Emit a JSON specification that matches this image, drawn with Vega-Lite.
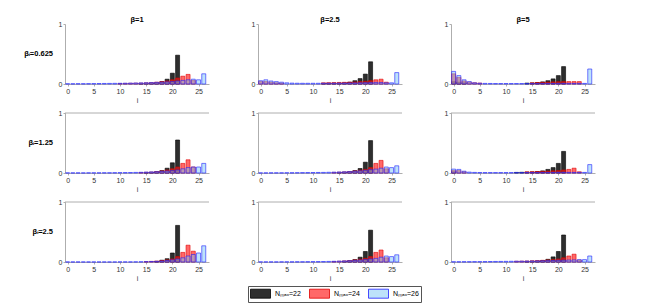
{
"$schema":"https://vega.github.io/schema/vega-lite/v6.json",
"padding":{"left":24,"top":15,"right":5,"bottom":5},
"config":{
 "view":{"stroke":null},
 "font":"Liberation Sans",
 "axis":{"labelFontSize":7,"labelColor":"#333","domainColor":"#999","tickColor":"#999","tickSize":2,"labelPadding":1,"titleFontSize":7,"titleFontWeight":"normal","titleColor":"#333","titlePadding":2,"grid":false,"domainWidth":0.8,"tickWidth":0.8,"labelOverlap":false},
 "header":{"labelFontSize":7.5,"labelFontWeight":"bold","labelColor":"#000"},
 "legend":{"orient":"none","direction":"horizontal","legendX":183,"legendY":262,"strokeColor":"#555","fillColor":"#fff","padding":2,"symbolType":"M-2,-0.9H2V0.9H-2Z","symbolSize":100,"symbolOffset":5,"labelOffset":9,"labelFontSize":7,"columnPadding":6,"symbolStrokeWidth":0.8,"labelColor":"#000"}
},
"data":{"values":[
{"r":0.625,"c":1,"n":"22","i":14,"p":0.008},{"r":0.625,"c":1,"n":"22","i":15,"p":0.01},{"r":0.625,"c":1,"n":"22","i":16,"p":0.013},{"r":0.625,"c":1,"n":"22","i":17,"p":0.02},{"r":0.625,"c":1,"n":"22","i":18,"p":0.04},{"r":0.625,"c":1,"n":"22","i":19,"p":0.08},{"r":0.625,"c":1,"n":"22","i":20,"p":0.18},{"r":0.625,"c":1,"n":"22","i":21,"p":0.48},
{"r":0.625,"c":2.5,"n":"22","i":12,"p":0.01},{"r":0.625,"c":2.5,"n":"22","i":13,"p":0.012},{"r":0.625,"c":2.5,"n":"22","i":14,"p":0.014},{"r":0.625,"c":2.5,"n":"22","i":15,"p":0.016},{"r":0.625,"c":2.5,"n":"22","i":16,"p":0.02},{"r":0.625,"c":2.5,"n":"22","i":17,"p":0.03},{"r":0.625,"c":2.5,"n":"22","i":18,"p":0.055},{"r":0.625,"c":2.5,"n":"22","i":19,"p":0.09},{"r":0.625,"c":2.5,"n":"22","i":20,"p":0.165},{"r":0.625,"c":2.5,"n":"22","i":21,"p":0.37},
{"r":0.625,"c":5,"n":"22","i":0,"p":0.04},{"r":0.625,"c":5,"n":"22","i":1,"p":0.03},{"r":0.625,"c":5,"n":"22","i":2,"p":0.02},{"r":0.625,"c":5,"n":"22","i":14,"p":0.015},{"r":0.625,"c":5,"n":"22","i":15,"p":0.018},{"r":0.625,"c":5,"n":"22","i":16,"p":0.025},{"r":0.625,"c":5,"n":"22","i":17,"p":0.035},{"r":0.625,"c":5,"n":"22","i":18,"p":0.055},{"r":0.625,"c":5,"n":"22","i":19,"p":0.085},{"r":0.625,"c":5,"n":"22","i":20,"p":0.14},{"r":0.625,"c":5,"n":"22","i":21,"p":0.29},
{"r":1.25,"c":1,"n":"22","i":15,"p":0.005},{"r":1.25,"c":1,"n":"22","i":16,"p":0.01},{"r":1.25,"c":1,"n":"22","i":17,"p":0.02},{"r":1.25,"c":1,"n":"22","i":18,"p":0.04},{"r":1.25,"c":1,"n":"22","i":19,"p":0.08},{"r":1.25,"c":1,"n":"22","i":20,"p":0.17},{"r":1.25,"c":1,"n":"22","i":21,"p":0.55},
{"r":1.25,"c":2.5,"n":"22","i":15,"p":0.008},{"r":1.25,"c":2.5,"n":"22","i":16,"p":0.012},{"r":1.25,"c":2.5,"n":"22","i":17,"p":0.02},{"r":1.25,"c":2.5,"n":"22","i":18,"p":0.04},{"r":1.25,"c":2.5,"n":"22","i":19,"p":0.075},{"r":1.25,"c":2.5,"n":"22","i":20,"p":0.18},{"r":1.25,"c":2.5,"n":"22","i":21,"p":0.54},
{"r":1.25,"c":5,"n":"22","i":0,"p":0.02},{"r":1.25,"c":5,"n":"22","i":12,"p":0.01},{"r":1.25,"c":5,"n":"22","i":13,"p":0.012},{"r":1.25,"c":5,"n":"22","i":14,"p":0.015},{"r":1.25,"c":5,"n":"22","i":15,"p":0.018},{"r":1.25,"c":5,"n":"22","i":16,"p":0.025},{"r":1.25,"c":5,"n":"22","i":17,"p":0.035},{"r":1.25,"c":5,"n":"22","i":18,"p":0.06},{"r":1.25,"c":5,"n":"22","i":19,"p":0.09},{"r":1.25,"c":5,"n":"22","i":20,"p":0.16},{"r":1.25,"c":5,"n":"22","i":21,"p":0.36},
{"r":2.5,"c":1,"n":"22","i":17,"p":0.01},{"r":2.5,"c":1,"n":"22","i":18,"p":0.03},{"r":2.5,"c":1,"n":"22","i":19,"p":0.055},{"r":2.5,"c":1,"n":"22","i":20,"p":0.15},{"r":2.5,"c":1,"n":"22","i":21,"p":0.61},
{"r":2.5,"c":2.5,"n":"22","i":16,"p":0.01},{"r":2.5,"c":2.5,"n":"22","i":17,"p":0.02},{"r":2.5,"c":2.5,"n":"22","i":18,"p":0.04},{"r":2.5,"c":2.5,"n":"22","i":19,"p":0.08},{"r":2.5,"c":2.5,"n":"22","i":20,"p":0.175},{"r":2.5,"c":2.5,"n":"22","i":21,"p":0.53},
{"r":2.5,"c":5,"n":"22","i":14,"p":0.01},{"r":2.5,"c":5,"n":"22","i":15,"p":0.012},{"r":2.5,"c":5,"n":"22","i":16,"p":0.016},{"r":2.5,"c":5,"n":"22","i":17,"p":0.025},{"r":2.5,"c":5,"n":"22","i":18,"p":0.045},{"r":2.5,"c":5,"n":"22","i":19,"p":0.085},{"r":2.5,"c":5,"n":"22","i":20,"p":0.175},{"r":2.5,"c":5,"n":"22","i":21,"p":0.45},
{"r":0.625,"c":1,"n":"24","i":10,"p":0.008},{"r":0.625,"c":1,"n":"24","i":11,"p":0.01},{"r":0.625,"c":1,"n":"24","i":12,"p":0.012},{"r":0.625,"c":1,"n":"24","i":13,"p":0.014},{"r":0.625,"c":1,"n":"24","i":14,"p":0.016},{"r":0.625,"c":1,"n":"24","i":15,"p":0.02},{"r":0.625,"c":1,"n":"24","i":16,"p":0.024},{"r":0.625,"c":1,"n":"24","i":17,"p":0.03},{"r":0.625,"c":1,"n":"24","i":18,"p":0.04},{"r":0.625,"c":1,"n":"24","i":19,"p":0.05},{"r":0.625,"c":1,"n":"24","i":20,"p":0.07},{"r":0.625,"c":1,"n":"24","i":21,"p":0.1},{"r":0.625,"c":1,"n":"24","i":22,"p":0.13},{"r":0.625,"c":1,"n":"24","i":23,"p":0.16},{"r":0.625,"c":1,"n":"24","i":24,"p":0.06},
{"r":0.625,"c":2.5,"n":"24","i":0,"p":0.04},{"r":0.625,"c":2.5,"n":"24","i":1,"p":0.04},{"r":0.625,"c":2.5,"n":"24","i":2,"p":0.03},{"r":0.625,"c":2.5,"n":"24","i":3,"p":0.02},{"r":0.625,"c":2.5,"n":"24","i":4,"p":0.015},{"r":0.625,"c":2.5,"n":"24","i":12,"p":0.02},{"r":0.625,"c":2.5,"n":"24","i":13,"p":0.022},{"r":0.625,"c":2.5,"n":"24","i":14,"p":0.024},{"r":0.625,"c":2.5,"n":"24","i":15,"p":0.026},{"r":0.625,"c":2.5,"n":"24","i":16,"p":0.028},{"r":0.625,"c":2.5,"n":"24","i":17,"p":0.03},{"r":0.625,"c":2.5,"n":"24","i":18,"p":0.034},{"r":0.625,"c":2.5,"n":"24","i":19,"p":0.04},{"r":0.625,"c":2.5,"n":"24","i":20,"p":0.045},{"r":0.625,"c":2.5,"n":"24","i":21,"p":0.055},{"r":0.625,"c":2.5,"n":"24","i":22,"p":0.07},{"r":0.625,"c":2.5,"n":"24","i":23,"p":0.08},{"r":0.625,"c":2.5,"n":"24","i":24,"p":0.03},
{"r":0.625,"c":5,"n":"24","i":0,"p":0.17},{"r":0.625,"c":5,"n":"24","i":1,"p":0.11},{"r":0.625,"c":5,"n":"24","i":2,"p":0.05},{"r":0.625,"c":5,"n":"24","i":3,"p":0.03},{"r":0.625,"c":5,"n":"24","i":4,"p":0.02},{"r":0.625,"c":5,"n":"24","i":5,"p":0.015},{"r":0.625,"c":5,"n":"24","i":15,"p":0.02},{"r":0.625,"c":5,"n":"24","i":16,"p":0.024},{"r":0.625,"c":5,"n":"24","i":17,"p":0.028},{"r":0.625,"c":5,"n":"24","i":18,"p":0.032},{"r":0.625,"c":5,"n":"24","i":19,"p":0.035},{"r":0.625,"c":5,"n":"24","i":20,"p":0.038},{"r":0.625,"c":5,"n":"24","i":21,"p":0.04},{"r":0.625,"c":5,"n":"24","i":22,"p":0.04},{"r":0.625,"c":5,"n":"24","i":23,"p":0.04},{"r":0.625,"c":5,"n":"24","i":24,"p":0.04},
{"r":1.25,"c":1,"n":"24","i":14,"p":0.008},{"r":1.25,"c":1,"n":"24","i":15,"p":0.012},{"r":1.25,"c":1,"n":"24","i":16,"p":0.016},{"r":1.25,"c":1,"n":"24","i":17,"p":0.025},{"r":1.25,"c":1,"n":"24","i":18,"p":0.035},{"r":1.25,"c":1,"n":"24","i":19,"p":0.05},{"r":1.25,"c":1,"n":"24","i":20,"p":0.07},{"r":1.25,"c":1,"n":"24","i":21,"p":0.1},{"r":1.25,"c":1,"n":"24","i":22,"p":0.16},{"r":1.25,"c":1,"n":"24","i":23,"p":0.22},{"r":1.25,"c":1,"n":"24","i":24,"p":0.1},
{"r":1.25,"c":2.5,"n":"24","i":14,"p":0.01},{"r":1.25,"c":2.5,"n":"24","i":15,"p":0.014},{"r":1.25,"c":2.5,"n":"24","i":16,"p":0.018},{"r":1.25,"c":2.5,"n":"24","i":17,"p":0.025},{"r":1.25,"c":2.5,"n":"24","i":18,"p":0.035},{"r":1.25,"c":2.5,"n":"24","i":19,"p":0.045},{"r":1.25,"c":2.5,"n":"24","i":20,"p":0.06},{"r":1.25,"c":2.5,"n":"24","i":21,"p":0.09},{"r":1.25,"c":2.5,"n":"24","i":22,"p":0.16},{"r":1.25,"c":2.5,"n":"24","i":23,"p":0.21},{"r":1.25,"c":2.5,"n":"24","i":24,"p":0.07},
{"r":1.25,"c":5,"n":"24","i":0,"p":0.04},{"r":1.25,"c":5,"n":"24","i":1,"p":0.04},{"r":1.25,"c":5,"n":"24","i":2,"p":0.02},{"r":1.25,"c":5,"n":"24","i":14,"p":0.02},{"r":1.25,"c":5,"n":"24","i":15,"p":0.022},{"r":1.25,"c":5,"n":"24","i":16,"p":0.025},{"r":1.25,"c":5,"n":"24","i":17,"p":0.028},{"r":1.25,"c":5,"n":"24","i":18,"p":0.032},{"r":1.25,"c":5,"n":"24","i":19,"p":0.036},{"r":1.25,"c":5,"n":"24","i":20,"p":0.04},{"r":1.25,"c":5,"n":"24","i":21,"p":0.05},{"r":1.25,"c":5,"n":"24","i":22,"p":0.06},{"r":1.25,"c":5,"n":"24","i":23,"p":0.08},{"r":1.25,"c":5,"n":"24","i":24,"p":0.02},
{"r":2.5,"c":1,"n":"24","i":15,"p":0.005},{"r":2.5,"c":1,"n":"24","i":16,"p":0.01},{"r":2.5,"c":1,"n":"24","i":17,"p":0.015},{"r":2.5,"c":1,"n":"24","i":18,"p":0.025},{"r":2.5,"c":1,"n":"24","i":19,"p":0.035},{"r":2.5,"c":1,"n":"24","i":20,"p":0.05},{"r":2.5,"c":1,"n":"24","i":21,"p":0.09},{"r":2.5,"c":1,"n":"24","i":22,"p":0.16},{"r":2.5,"c":1,"n":"24","i":23,"p":0.28},{"r":2.5,"c":1,"n":"24","i":24,"p":0.18},
{"r":2.5,"c":2.5,"n":"24","i":14,"p":0.008},{"r":2.5,"c":2.5,"n":"24","i":15,"p":0.012},{"r":2.5,"c":2.5,"n":"24","i":16,"p":0.018},{"r":2.5,"c":2.5,"n":"24","i":17,"p":0.025},{"r":2.5,"c":2.5,"n":"24","i":18,"p":0.035},{"r":2.5,"c":2.5,"n":"24","i":19,"p":0.045},{"r":2.5,"c":2.5,"n":"24","i":20,"p":0.06},{"r":2.5,"c":2.5,"n":"24","i":21,"p":0.09},{"r":2.5,"c":2.5,"n":"24","i":22,"p":0.16},{"r":2.5,"c":2.5,"n":"24","i":23,"p":0.2},{"r":2.5,"c":2.5,"n":"24","i":24,"p":0.07},
{"r":2.5,"c":5,"n":"24","i":12,"p":0.012},{"r":2.5,"c":5,"n":"24","i":13,"p":0.014},{"r":2.5,"c":5,"n":"24","i":14,"p":0.016},{"r":2.5,"c":5,"n":"24","i":15,"p":0.02},{"r":2.5,"c":5,"n":"24","i":16,"p":0.024},{"r":2.5,"c":5,"n":"24","i":17,"p":0.028},{"r":2.5,"c":5,"n":"24","i":18,"p":0.034},{"r":2.5,"c":5,"n":"24","i":19,"p":0.04},{"r":2.5,"c":5,"n":"24","i":20,"p":0.05},{"r":2.5,"c":5,"n":"24","i":21,"p":0.07},{"r":2.5,"c":5,"n":"24","i":22,"p":0.1},{"r":2.5,"c":5,"n":"24","i":23,"p":0.13},{"r":2.5,"c":5,"n":"24","i":24,"p":0.03},
{"r":0.625,"c":1,"n":"26","i":0,"p":0.004},{"r":0.625,"c":1,"n":"26","i":1,"p":0.004},{"r":0.625,"c":1,"n":"26","i":2,"p":0.005},{"r":0.625,"c":1,"n":"26","i":3,"p":0.005},{"r":0.625,"c":1,"n":"26","i":4,"p":0.006},{"r":0.625,"c":1,"n":"26","i":5,"p":0.007},{"r":0.625,"c":1,"n":"26","i":6,"p":0.008},{"r":0.625,"c":1,"n":"26","i":7,"p":0.009},{"r":0.625,"c":1,"n":"26","i":8,"p":0.01},{"r":0.625,"c":1,"n":"26","i":9,"p":0.011},{"r":0.625,"c":1,"n":"26","i":10,"p":0.012},{"r":0.625,"c":1,"n":"26","i":11,"p":0.013},{"r":0.625,"c":1,"n":"26","i":12,"p":0.015},{"r":0.625,"c":1,"n":"26","i":13,"p":0.017},{"r":0.625,"c":1,"n":"26","i":14,"p":0.019},{"r":0.625,"c":1,"n":"26","i":15,"p":0.021},{"r":0.625,"c":1,"n":"26","i":16,"p":0.024},{"r":0.625,"c":1,"n":"26","i":17,"p":0.027},{"r":0.625,"c":1,"n":"26","i":18,"p":0.03},{"r":0.625,"c":1,"n":"26","i":19,"p":0.035},{"r":0.625,"c":1,"n":"26","i":20,"p":0.04},{"r":0.625,"c":1,"n":"26","i":21,"p":0.05},{"r":0.625,"c":1,"n":"26","i":22,"p":0.06},{"r":0.625,"c":1,"n":"26","i":23,"p":0.07},{"r":0.625,"c":1,"n":"26","i":24,"p":0.08},{"r":0.625,"c":1,"n":"26","i":25,"p":0.07},{"r":0.625,"c":1,"n":"26","i":26,"p":0.17},
{"r":0.625,"c":2.5,"n":"26","i":0,"p":0.055},{"r":0.625,"c":2.5,"n":"26","i":1,"p":0.07},{"r":0.625,"c":2.5,"n":"26","i":2,"p":0.05},{"r":0.625,"c":2.5,"n":"26","i":3,"p":0.04},{"r":0.625,"c":2.5,"n":"26","i":4,"p":0.03},{"r":0.625,"c":2.5,"n":"26","i":5,"p":0.02},{"r":0.625,"c":2.5,"n":"26","i":6,"p":0.015},{"r":0.625,"c":2.5,"n":"26","i":7,"p":0.013},{"r":0.625,"c":2.5,"n":"26","i":8,"p":0.012},{"r":0.625,"c":2.5,"n":"26","i":9,"p":0.012},{"r":0.625,"c":2.5,"n":"26","i":10,"p":0.012},{"r":0.625,"c":2.5,"n":"26","i":11,"p":0.012},{"r":0.625,"c":2.5,"n":"26","i":12,"p":0.013},{"r":0.625,"c":2.5,"n":"26","i":13,"p":0.013},{"r":0.625,"c":2.5,"n":"26","i":14,"p":0.014},{"r":0.625,"c":2.5,"n":"26","i":15,"p":0.015},{"r":0.625,"c":2.5,"n":"26","i":16,"p":0.016},{"r":0.625,"c":2.5,"n":"26","i":17,"p":0.017},{"r":0.625,"c":2.5,"n":"26","i":18,"p":0.018},{"r":0.625,"c":2.5,"n":"26","i":19,"p":0.02},{"r":0.625,"c":2.5,"n":"26","i":20,"p":0.022},{"r":0.625,"c":2.5,"n":"26","i":21,"p":0.024},{"r":0.625,"c":2.5,"n":"26","i":22,"p":0.026},{"r":0.625,"c":2.5,"n":"26","i":23,"p":0.025},{"r":0.625,"c":2.5,"n":"26","i":24,"p":0.02},{"r":0.625,"c":2.5,"n":"26","i":25,"p":0.02},{"r":0.625,"c":2.5,"n":"26","i":26,"p":0.19},
{"r":0.625,"c":5,"n":"26","i":0,"p":0.21},{"r":0.625,"c":5,"n":"26","i":1,"p":0.14},{"r":0.625,"c":5,"n":"26","i":2,"p":0.07},{"r":0.625,"c":5,"n":"26","i":3,"p":0.04},{"r":0.625,"c":5,"n":"26","i":4,"p":0.02},{"r":0.625,"c":5,"n":"26","i":5,"p":0.013},{"r":0.625,"c":5,"n":"26","i":6,"p":0.01},{"r":0.625,"c":5,"n":"26","i":7,"p":0.009},{"r":0.625,"c":5,"n":"26","i":8,"p":0.008},{"r":0.625,"c":5,"n":"26","i":9,"p":0.008},{"r":0.625,"c":5,"n":"26","i":10,"p":0.008},{"r":0.625,"c":5,"n":"26","i":11,"p":0.008},{"r":0.625,"c":5,"n":"26","i":12,"p":0.008},{"r":0.625,"c":5,"n":"26","i":13,"p":0.008},{"r":0.625,"c":5,"n":"26","i":14,"p":0.008},{"r":0.625,"c":5,"n":"26","i":15,"p":0.008},{"r":0.625,"c":5,"n":"26","i":16,"p":0.008},{"r":0.625,"c":5,"n":"26","i":17,"p":0.009},{"r":0.625,"c":5,"n":"26","i":18,"p":0.009},{"r":0.625,"c":5,"n":"26","i":19,"p":0.009},{"r":0.625,"c":5,"n":"26","i":20,"p":0.01},{"r":0.625,"c":5,"n":"26","i":21,"p":0.01},{"r":0.625,"c":5,"n":"26","i":22,"p":0.01},{"r":0.625,"c":5,"n":"26","i":23,"p":0.01},{"r":0.625,"c":5,"n":"26","i":24,"p":0.01},{"r":0.625,"c":5,"n":"26","i":25,"p":0.01},{"r":0.625,"c":5,"n":"26","i":26,"p":0.25},
{"r":1.25,"c":1,"n":"26","i":0,"p":0.002},{"r":1.25,"c":1,"n":"26","i":1,"p":0.002},{"r":1.25,"c":1,"n":"26","i":2,"p":0.002},{"r":1.25,"c":1,"n":"26","i":3,"p":0.002},{"r":1.25,"c":1,"n":"26","i":4,"p":0.003},{"r":1.25,"c":1,"n":"26","i":5,"p":0.003},{"r":1.25,"c":1,"n":"26","i":6,"p":0.003},{"r":1.25,"c":1,"n":"26","i":7,"p":0.004},{"r":1.25,"c":1,"n":"26","i":8,"p":0.004},{"r":1.25,"c":1,"n":"26","i":9,"p":0.005},{"r":1.25,"c":1,"n":"26","i":10,"p":0.006},{"r":1.25,"c":1,"n":"26","i":11,"p":0.007},{"r":1.25,"c":1,"n":"26","i":12,"p":0.008},{"r":1.25,"c":1,"n":"26","i":13,"p":0.01},{"r":1.25,"c":1,"n":"26","i":14,"p":0.012},{"r":1.25,"c":1,"n":"26","i":15,"p":0.015},{"r":1.25,"c":1,"n":"26","i":16,"p":0.018},{"r":1.25,"c":1,"n":"26","i":17,"p":0.022},{"r":1.25,"c":1,"n":"26","i":18,"p":0.027},{"r":1.25,"c":1,"n":"26","i":19,"p":0.033},{"r":1.25,"c":1,"n":"26","i":20,"p":0.04},{"r":1.25,"c":1,"n":"26","i":21,"p":0.05},{"r":1.25,"c":1,"n":"26","i":22,"p":0.07},{"r":1.25,"c":1,"n":"26","i":23,"p":0.09},{"r":1.25,"c":1,"n":"26","i":24,"p":0.1},{"r":1.25,"c":1,"n":"26","i":25,"p":0.1},{"r":1.25,"c":1,"n":"26","i":26,"p":0.16},
{"r":1.25,"c":2.5,"n":"26","i":0,"p":0.002},{"r":1.25,"c":2.5,"n":"26","i":1,"p":0.002},{"r":1.25,"c":2.5,"n":"26","i":2,"p":0.003},{"r":1.25,"c":2.5,"n":"26","i":3,"p":0.003},{"r":1.25,"c":2.5,"n":"26","i":4,"p":0.003},{"r":1.25,"c":2.5,"n":"26","i":5,"p":0.004},{"r":1.25,"c":2.5,"n":"26","i":6,"p":0.004},{"r":1.25,"c":2.5,"n":"26","i":7,"p":0.005},{"r":1.25,"c":2.5,"n":"26","i":8,"p":0.006},{"r":1.25,"c":2.5,"n":"26","i":9,"p":0.007},{"r":1.25,"c":2.5,"n":"26","i":10,"p":0.008},{"r":1.25,"c":2.5,"n":"26","i":11,"p":0.009},{"r":1.25,"c":2.5,"n":"26","i":12,"p":0.01},{"r":1.25,"c":2.5,"n":"26","i":13,"p":0.012},{"r":1.25,"c":2.5,"n":"26","i":14,"p":0.014},{"r":1.25,"c":2.5,"n":"26","i":15,"p":0.017},{"r":1.25,"c":2.5,"n":"26","i":16,"p":0.02},{"r":1.25,"c":2.5,"n":"26","i":17,"p":0.024},{"r":1.25,"c":2.5,"n":"26","i":18,"p":0.03},{"r":1.25,"c":2.5,"n":"26","i":19,"p":0.036},{"r":1.25,"c":2.5,"n":"26","i":20,"p":0.045},{"r":1.25,"c":2.5,"n":"26","i":21,"p":0.055},{"r":1.25,"c":2.5,"n":"26","i":22,"p":0.065},{"r":1.25,"c":2.5,"n":"26","i":23,"p":0.08},{"r":1.25,"c":2.5,"n":"26","i":24,"p":0.1},{"r":1.25,"c":2.5,"n":"26","i":25,"p":0.09},{"r":1.25,"c":2.5,"n":"26","i":26,"p":0.12},
{"r":1.25,"c":5,"n":"26","i":0,"p":0.065},{"r":1.25,"c":5,"n":"26","i":1,"p":0.06},{"r":1.25,"c":5,"n":"26","i":2,"p":0.03},{"r":1.25,"c":5,"n":"26","i":3,"p":0.015},{"r":1.25,"c":5,"n":"26","i":4,"p":0.01},{"r":1.25,"c":5,"n":"26","i":5,"p":0.008},{"r":1.25,"c":5,"n":"26","i":6,"p":0.007},{"r":1.25,"c":5,"n":"26","i":7,"p":0.007},{"r":1.25,"c":5,"n":"26","i":8,"p":0.007},{"r":1.25,"c":5,"n":"26","i":9,"p":0.007},{"r":1.25,"c":5,"n":"26","i":10,"p":0.007},{"r":1.25,"c":5,"n":"26","i":11,"p":0.007},{"r":1.25,"c":5,"n":"26","i":12,"p":0.007},{"r":1.25,"c":5,"n":"26","i":13,"p":0.007},{"r":1.25,"c":5,"n":"26","i":14,"p":0.008},{"r":1.25,"c":5,"n":"26","i":15,"p":0.008},{"r":1.25,"c":5,"n":"26","i":16,"p":0.008},{"r":1.25,"c":5,"n":"26","i":17,"p":0.008},{"r":1.25,"c":5,"n":"26","i":18,"p":0.009},{"r":1.25,"c":5,"n":"26","i":19,"p":0.009},{"r":1.25,"c":5,"n":"26","i":20,"p":0.01},{"r":1.25,"c":5,"n":"26","i":21,"p":0.01},{"r":1.25,"c":5,"n":"26","i":22,"p":0.01},{"r":1.25,"c":5,"n":"26","i":23,"p":0.01},{"r":1.25,"c":5,"n":"26","i":24,"p":0.01},{"r":1.25,"c":5,"n":"26","i":25,"p":0.01},{"r":1.25,"c":5,"n":"26","i":26,"p":0.14},
{"r":2.5,"c":1,"n":"26","i":0,"p":0.001},{"r":2.5,"c":1,"n":"26","i":1,"p":0.001},{"r":2.5,"c":1,"n":"26","i":2,"p":0.001},{"r":2.5,"c":1,"n":"26","i":3,"p":0.001},{"r":2.5,"c":1,"n":"26","i":4,"p":0.001},{"r":2.5,"c":1,"n":"26","i":5,"p":0.001},{"r":2.5,"c":1,"n":"26","i":6,"p":0.001},{"r":2.5,"c":1,"n":"26","i":7,"p":0.001},{"r":2.5,"c":1,"n":"26","i":8,"p":0.001},{"r":2.5,"c":1,"n":"26","i":9,"p":0.001},{"r":2.5,"c":1,"n":"26","i":10,"p":0.002},{"r":2.5,"c":1,"n":"26","i":11,"p":0.002},{"r":2.5,"c":1,"n":"26","i":12,"p":0.002},{"r":2.5,"c":1,"n":"26","i":13,"p":0.003},{"r":2.5,"c":1,"n":"26","i":14,"p":0.004},{"r":2.5,"c":1,"n":"26","i":15,"p":0.006},{"r":2.5,"c":1,"n":"26","i":16,"p":0.008},{"r":2.5,"c":1,"n":"26","i":17,"p":0.011},{"r":2.5,"c":1,"n":"26","i":18,"p":0.016},{"r":2.5,"c":1,"n":"26","i":19,"p":0.025},{"r":2.5,"c":1,"n":"26","i":20,"p":0.035},{"r":2.5,"c":1,"n":"26","i":21,"p":0.05},{"r":2.5,"c":1,"n":"26","i":22,"p":0.07},{"r":2.5,"c":1,"n":"26","i":23,"p":0.1},{"r":2.5,"c":1,"n":"26","i":24,"p":0.125},{"r":2.5,"c":1,"n":"26","i":25,"p":0.15},{"r":2.5,"c":1,"n":"26","i":26,"p":0.27},
{"r":2.5,"c":2.5,"n":"26","i":0,"p":0.002},{"r":2.5,"c":2.5,"n":"26","i":1,"p":0.002},{"r":2.5,"c":2.5,"n":"26","i":2,"p":0.002},{"r":2.5,"c":2.5,"n":"26","i":3,"p":0.002},{"r":2.5,"c":2.5,"n":"26","i":4,"p":0.003},{"r":2.5,"c":2.5,"n":"26","i":5,"p":0.003},{"r":2.5,"c":2.5,"n":"26","i":6,"p":0.003},{"r":2.5,"c":2.5,"n":"26","i":7,"p":0.004},{"r":2.5,"c":2.5,"n":"26","i":8,"p":0.004},{"r":2.5,"c":2.5,"n":"26","i":9,"p":0.005},{"r":2.5,"c":2.5,"n":"26","i":10,"p":0.006},{"r":2.5,"c":2.5,"n":"26","i":11,"p":0.007},{"r":2.5,"c":2.5,"n":"26","i":12,"p":0.008},{"r":2.5,"c":2.5,"n":"26","i":13,"p":0.01},{"r":2.5,"c":2.5,"n":"26","i":14,"p":0.012},{"r":2.5,"c":2.5,"n":"26","i":15,"p":0.015},{"r":2.5,"c":2.5,"n":"26","i":16,"p":0.018},{"r":2.5,"c":2.5,"n":"26","i":17,"p":0.022},{"r":2.5,"c":2.5,"n":"26","i":18,"p":0.027},{"r":2.5,"c":2.5,"n":"26","i":19,"p":0.033},{"r":2.5,"c":2.5,"n":"26","i":20,"p":0.04},{"r":2.5,"c":2.5,"n":"26","i":21,"p":0.05},{"r":2.5,"c":2.5,"n":"26","i":22,"p":0.06},{"r":2.5,"c":2.5,"n":"26","i":23,"p":0.08},{"r":2.5,"c":2.5,"n":"26","i":24,"p":0.1},{"r":2.5,"c":2.5,"n":"26","i":25,"p":0.09},{"r":2.5,"c":2.5,"n":"26","i":26,"p":0.12},
{"r":2.5,"c":5,"n":"26","i":0,"p":0.004},{"r":2.5,"c":5,"n":"26","i":1,"p":0.004},{"r":2.5,"c":5,"n":"26","i":2,"p":0.005},{"r":2.5,"c":5,"n":"26","i":3,"p":0.005},{"r":2.5,"c":5,"n":"26","i":4,"p":0.006},{"r":2.5,"c":5,"n":"26","i":5,"p":0.006},{"r":2.5,"c":5,"n":"26","i":6,"p":0.007},{"r":2.5,"c":5,"n":"26","i":7,"p":0.008},{"r":2.5,"c":5,"n":"26","i":8,"p":0.009},{"r":2.5,"c":5,"n":"26","i":9,"p":0.01},{"r":2.5,"c":5,"n":"26","i":10,"p":0.011},{"r":2.5,"c":5,"n":"26","i":11,"p":0.012},{"r":2.5,"c":5,"n":"26","i":12,"p":0.013},{"r":2.5,"c":5,"n":"26","i":13,"p":0.014},{"r":2.5,"c":5,"n":"26","i":14,"p":0.015},{"r":2.5,"c":5,"n":"26","i":15,"p":0.017},{"r":2.5,"c":5,"n":"26","i":16,"p":0.019},{"r":2.5,"c":5,"n":"26","i":17,"p":0.021},{"r":2.5,"c":5,"n":"26","i":18,"p":0.023},{"r":2.5,"c":5,"n":"26","i":19,"p":0.025},{"r":2.5,"c":5,"n":"26","i":20,"p":0.028},{"r":2.5,"c":5,"n":"26","i":21,"p":0.03},{"r":2.5,"c":5,"n":"26","i":22,"p":0.033},{"r":2.5,"c":5,"n":"26","i":23,"p":0.035},{"r":2.5,"c":5,"n":"26","i":24,"p":0.04},{"r":2.5,"c":5,"n":"26","i":25,"p":0.04},{"r":2.5,"c":5,"n":"26","i":26,"p":0.1}
]},
"facet":{
 "row":{"field":"r","type":"ordinal","title":null,"header":{"labelExpr":"'βᵢ=' + datum.value","labelAngle":0,"labelOrient":"left","labelAlign":"left","labelPadding":5}},
 "column":{"field":"c","type":"ordinal","title":null,"header":{"labelExpr":"'β=' + datum.value","labelPadding":-3}}
},
"spacing":{"row":6,"column":41},
"resolve":{"axis":{"x":"independent","y":"independent"}},
"spec":{
 "width":144,"height":60,
 "layer":[
  {"mark":{"type":"bar","size":4,"strokeWidth":0.8,"strokeOpacity":0.75},
   "encoding":{
    "x":{"field":"i","type":"quantitative","scale":{"domain":[-0.5,27],"nice":false,"zero":false,"padding":0},"axis":{"values":[0,5,10,15,20,25],"title":"i"}},
    "y":{"field":"p","type":"quantitative","stack":null,"scale":{"domain":[0,1]},"axis":{"values":[0,0.5,1],"format":"~g","title":null}},
    "fill":{"field":"n","type":"nominal","scale":{"range":["#000000","#ff1a1a","#7cc6f5"]},"legend":{"title":null,"labelExpr":"'Nₘₐₓ=' + datum.label","encode":{"symbols":{"update":{"fillOpacity":{"scale":"fillOpacity","field":"value"}}}}}},
    "stroke":{"field":"n","type":"nominal","scale":{"range":["#000000","#e00000","#2020ff"]},"legend":{"title":null,"labelExpr":"'Nₘₐₓ=' + datum.label"}},
    "fillOpacity":{"field":"n","type":"nominal","scale":{"range":[0.82,0.5,0.3]},"legend":null}
   }},
  {"transform":[{"filter":"datum.n=='26' && datum.i==26 && datum.r>1"}],
   "mark":{"type":"rule","color":"#999","strokeWidth":0.8},
   "encoding":{"y":{"datum":1}}}
 ]
}
}
